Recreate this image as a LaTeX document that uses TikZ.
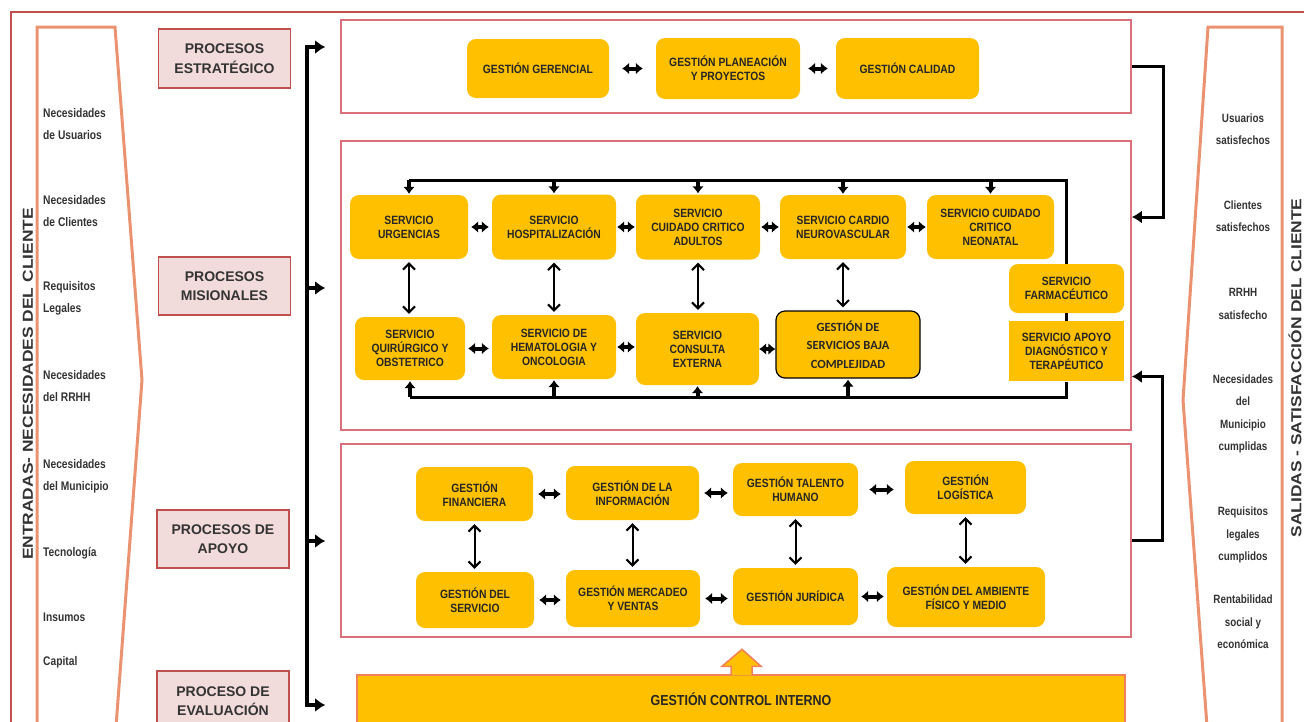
\documentclass[tikz,border=0pt]{standalone}
\usepackage{fontspec}
\setmainfont{Liberation Sans}
\newfontfamily\narrowfont[FakeStretch=0.86]{Liberation Sans}
\newfontfamily\labelfont[FakeStretch=0.82]{Liberation Sans}
\newfontfamily\widefont[FakeStretch=1.2]{Liberation Sans}
\newfontfamily\calfont{Carlito}
\usetikzlibrary{arrows.meta, positioning}

\definecolor{framered}{HTML}{C0504D}
\definecolor{secred}{HTML}{D9707A}
\definecolor{procpink}{HTML}{F2DCDB}
\definecolor{amber}{HTML}{FFC000}
\definecolor{salmon}{HTML}{EB9270}
\definecolor{ctrlline}{HTML}{F2805A}
\definecolor{inktext}{HTML}{262626}

\tikzset{
  procbox/.style = {draw=framered, line width=1.8pt, fill=procpink, align=center,
    minimum width=132, minimum height=59, text=black!80,
    font=\bfseries\fontsize{14}{19.5}\selectfont},
  section/.style = {draw=secred, line width=1.6pt, minimum width=790},
  yellowbox/.style = {fill=amber, rounded corners=9pt, align=center, inner sep=2pt,
    text=inktext, font=\narrowfont\bfseries\fontsize{12}{14}\selectfont},
  squarebox/.style = {yellowbox, sharp corners},
  lowbox/.style = {yellowbox, draw=black, line width=1.2pt,
    font=\calfont\bfseries\fontsize{12.5}{18.5}\selectfont},
  ctrlbox/.style = {fill=amber, draw=ctrlline, line width=1.5pt, text=inktext,
    font=\narrowfont\bfseries\fontsize{14.5}{16}\selectfont},
  inlabel/.style = {anchor=west, align=left, inner sep=0, text=black!80,
    font=\labelfont\bfseries\fontsize{12.5}{22}\selectfont},
  outlabel/.style = {align=center, inner sep=0, text=black!80,
    font=\labelfont\bfseries\fontsize{12}{22.5}\selectfont},
  sidetitle/.style = {rotate=90, text=black!80,
    font=\widefont\bfseries\fontsize{14.5}{17}\selectfont},
  chevron/.style = {draw=salmon, line width=3pt, line join=miter},
  busline/.style = {line width=4pt, line cap=rect},
  busarrow/.style = {line width=4pt, -{Latex[length=10pt,width=14pt]}, shorten >=15pt},
  pairarrow/.style = {line width=4pt, {Latex[length=7pt,width=12pt]}-{Latex[length=7pt,width=12pt]}},
  linkarrow/.style = {line width=2pt, shorten <=3pt, shorten >=3pt,
    {Straight Barb[length=6pt,width=12pt]}-{Straight Barb[length=6pt,width=12pt]}},
  droparrow/.style = {line width=4pt, shorten >=1pt, -{Latex[length=7pt,width=12pt]}},
  loopline/.style = {line width=3pt},
  sideconn/.style = {line width=3pt, -{Latex[length=10pt,width=13pt]}},
}

\begin{document}
\begin{tikzpicture}[x=1pt, y=-1pt]
  \useasboundingbox (0,0) rectangle (1304,721);
  \clip (0,0) rectangle (1304,721);

  % frame, inputs and outputs
  \draw[framered, line width=2pt] (11,740) -- (11,12) -- (1320,12);
  \draw[chevron] (37,740) -- (37,27) -- (115,27) -- (142,380) -- (115,740);
  \draw[chevron] (1282,740) -- (1282,27) -- (1208,27) -- (1183,400) -- (1208,740);
  \node[sidetitle] (entradas) at (28,384) {ENTRADAS- NECESIDADES DEL CLIENTE};
  \node[sidetitle] (salidas) at (1295,368) {SALIDAS - SATISFACCIÓN DEL CLIENTE};

  \foreach \txt/\py [count=\i] in {
    {Necesidades\\de Usuarios}/124,
    {Necesidades\\de Clientes}/211,
    {Requisitos\\Legales}/298,
    {Necesidades\\del RRHH}/386,
    {Necesidades\\del Municipio}/476,
    {Tecnología}/553,
    {Insumos}/617,
    {Capital}/662%
  }{
    \node[inlabel] (in\i) at (43,\py) {\txt};
  }
  \foreach \txt/\py [count=\i] in {
    {Usuarios\\satisfechos}/129,
    {Clientes\\satisfechos}/216,
    {RRHH\\satisfecho}/304,
    {Necesidades\\del\\Municipio\\cumplidas}/414,
    {Requisitos\\legales\\cumplidos}/535,
    {Rentabilidad\\social y\\económica}/622%
  }{
    \node[outlabel] (out\i) at (1243,\py) {\txt};
  }

  % process levels
  \node[procbox] (pe) at (224.5,58.5) {PROCESOS\\ESTRATÉGICO};
  \node[procbox, minimum height=58] (pm) at (224.5,286) {PROCESOS\\MISIONALES};
  \node[procbox, minimum height=58] (pa) at (223,539) {PROCESOS DE\\APOYO};
  \node[procbox, minimum height=60] (pv) at (223,701) {PROCESO DE\\EVALUACIÓN};

  \node[section, minimum height=93] (strat) at (736,66.5) {};
  \node[section, minimum height=289] (mis) at (736,285.5) {};
  \node[section, minimum height=193] (apo) at (736,540.5) {};
  \node[ctrlbox, minimum width=768, minimum height=48] (ctrl) at (741,699) {GESTIÓN CONTROL INTERNO};
  \filldraw[fill=amber, draw=ctrlline, line width=1.5pt, shift={(ctrl.north)}]
    (-10,1) -- (-10,-8) -- (-19,-8) -- (1,-25) -- (20,-8) -- (11,-8) -- (11,1);

  \coordinate (busTop) at (307,47);
  \coordinate (busBot) at (307,705);
  \draw[busline] (busTop) -- (busBot);
  \foreach \nm/\py in {strat/47, mis/288, apo/541, ctrl/705}
    \draw[busarrow] (307,\py) -- (mis.west |- 307,\py);

  % boxes
  \foreach \nm/\px/\py/\bw/\bh/\txt in {
    ger/538/68.5/142/59/{GESTIÓN GERENCIAL},
    plan/728/68.5/144/61/{GESTIÓN PLANEACIÓN\\Y PROYECTOS},
    cal/907.5/68.5/143/61/{GESTIÓN CALIDAD},
    urg/409/227/118/64/{SERVICIO\\URGENCIAS},
    hosp/554/227/124/65/{SERVICIO\\HOSPITALIZACIÓN},
    cca/698/227/124/65/{SERVICIO\\CUIDADO CRITICO\\ADULTOS},
    cardio/843/227/126/64/{SERVICIO CARDIO\\NEUROVASCULAR},
    neo/990.5/227/127/64/{SERVICIO CUIDADO\\CRITICO\\NEONATAL},
    quir/410/348.5/110/63/{SERVICIO\\QUIRÚRGICO Y\\OBSTETRICO},
    hema/554/347/124/64/{SERVICIO DE\\HEMATOLOGIA Y\\ONCOLOGIA},
    cons/697.5/349/123/72/{SERVICIO\\CONSULTA\\EXTERNA},
    farm/1066.5/288.5/115/49/{SERVICIO\\FARMACÉUTICO},
    fin/474.5/494/117/54/{GESTIÓN\\FINANCIERA},
    info/632.5/493/133/54/{GESTIÓN DE LA\\INFORMACIÓN},
    tal/795.5/489.5/125/53/{GESTIÓN TALENTO\\HUMANO},
    log/965.5/487.5/121/53/{GESTIÓN\\LOGÍSTICA},
    serv/475/600/118/56/{GESTIÓN DEL\\SERVICIO},
    merc/633/598.5/134/57/{GESTIÓN MERCADEO\\Y VENTAS},
    jur/795.5/596.5/125/57/{GESTIÓN JURÍDICA},
    amb/966/597/158/60/{GESTIÓN DEL AMBIENTE\\FÍSICO Y MEDIO}%
  }{
    \node[yellowbox, minimum width=\bw, minimum height=\bh] (\nm) at (\px,\py) {\txt};
  }
  \node[lowbox, minimum width=144, minimum height=67] (baja) at (848,344.5) {GESTIÓN DE\\SERVICIOS BAJA\\COMPLEJIDAD};
  \node[squarebox, minimum width=115, minimum height=60, below=8pt of farm] (apoyo) {SERVICIO APOYO\\DIAGNÓSTICO Y\\TERAPÉUTICO};

  % links between boxes
  \foreach \a/\b/\g in {ger/plan/13, plan/cal/8, urg/hosp/3, hosp/cca/1, cca/cardio/1,
      cardio/neo/1, quir/hema/3, hema/cons/1, cons/baja/0, fin/info/5, info/tal/5,
      tal/log/11, serv/merc/5, merc/jur/5, jur/amb/3}
    \draw[pairarrow, shorten <=\g pt, shorten >=\g pt] (\a.east) -- (\a.east -| \b.west);
  \foreach \a/\b in {urg/quir, hosp/hema, cca/cons, cardio/baja, fin/serv, info/merc, tal/jur, log/amb}
    \draw[linkarrow] (\a.south) -- (\a.south |- \b.north);

  \coordinate (topbus) at (0,180);
  \coordinate (botbus) at (0,397);
  \draw[loopline] (urg.north |- topbus) -- (farm.north |- topbus) -- (farm.north);
  \draw[loopline] (farm.south) -- (farm.south |- apoyo.north);
  \draw[loopline] (apoyo.south) -- (apoyo.south |- botbus) -- (quir.south |- botbus);
  \foreach \nm in {urg, hosp, cca, cardio, neo}
    \draw[droparrow] (\nm.north |- topbus) -- (\nm.north);
  \foreach \nm in {quir, hema, cons, baja}
    \draw[droparrow] (\nm.south |- botbus) -- (\nm.south);

  \draw[sideconn] (strat.east) -- ++(32,0) |- ([yshift=68.5pt]mis.east);
  \draw[sideconn] (apo.east) -- ++(31,0) |- ([yshift=-91pt]mis.east);
\end{tikzpicture}
\end{document}
